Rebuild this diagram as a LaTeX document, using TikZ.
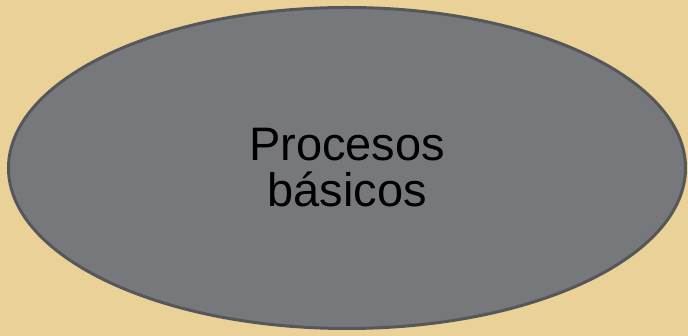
\documentclass[tikz,border=0pt]{standalone}
\usepackage{fontspec}
\setmainfont{Liberation Sans}
\usetikzlibrary{shapes.geometric}

\definecolor{papyrus}{RGB}{234,209,152}
\definecolor{ovalgray}{RGB}{119,120,124}
\definecolor{ovalrim}{RGB}{86,87,90}

\begin{document}
\begin{tikzpicture}[x=1pt,y=1pt,
  proc node/.style={ellipse,fill=ovalgray,draw=ovalrim,line width=3pt,
    minimum width=677pt,minimum height=321pt,inner sep=0pt,align=center,
    font=\fontsize{47}{46}\selectfont}]

  \fill[papyrus] (0,0) rectangle (688,336);
  \useasboundingbox (0,0) rectangle (688,336);

  \node[proc node] (proc) at (347,168) {Procesos\\b\'asicos};

\end{tikzpicture}
\end{document}
